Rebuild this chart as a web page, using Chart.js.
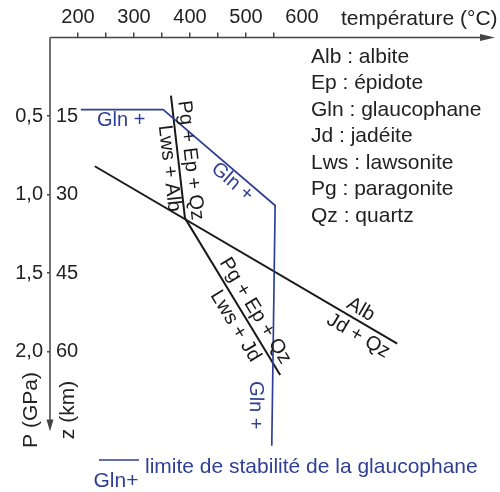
<!DOCTYPE html>
<html lang="fr">
<head>
<meta charset="utf-8">
<script src="https://cdn.jsdelivr.net/npm/chart.js@4.4.1/dist/chart.umd.min.js"></script>
<style>
  html, body { margin: 0; padding: 0; background: #fff; }
  #wrap { width: 500px; height: 492px; }
</style>
</head>
<body>
<div id="wrap"><canvas id="chart" width="500" height="492"></canvas></div>
<script>
// axes
const temperatureTicks = [200, 250, 300, 350, 400, 450, 500, 550, 600];
const pressureTicks = [0.5, 1.0, 1.5, 2.0];
const depthTicks = [15, 30, 45, 60];

// limite de stabilité de la glaucophane (T en °C, P en GPa)
const glnLimitT = [205, 352, 552, 546];
const glnLimitP = [0.46, 0.46, 1.07, 2.6];

// Pg + Ep + Qz = Lws + Alb, puis Pg + Ep + Qz = Lws + Jd
const pgReactionT = [366, 391, 561];
const pgReactionP = [0.37, 1.15, 2.15];

// Alb = Jd + Qz
const albReactionT = [230, 770];
const albReactionP = [0.82, 1.95];

const abbreviations = [
    'Alb : albite',
    'Ep : épidote',
    'Gln : glaucophane',
    'Jd : jadéite',
    'Lws : lawsonite',
    'Pg : paragonite',
    'Qz : quartz'
];

const BLUE = '#2f3f96';
const INK = '#1a1a1a';
const AXIS = '#454545';
const FONT = '"Liberation Sans", Arial, Helvetica, sans-serif';

Chart.defaults.font.family = FONT;

const toPoints = (ts, ps) => ts.map((t, i) => ({ x: t, y: ps[i] }));

// labels written along the lines: which series, which segment, where
const lineLabels = [
    { t: glnLimitT, p: glnLimitP, seg: 0, frac: 0.49, off: -11, text: 'Gln +', color: BLUE },
    { t: glnLimitT, p: glnLimitP, seg: 1, frac: 0.675, off: -10, text: 'Gln +', color: BLUE },
    { t: glnLimitT, p: glnLimitP, seg: 2, frac: 0.833, off: -17, text: 'Gln +', color: BLUE },
    { t: pgReactionT, p: pgReactionP, seg: 0, frac: 0.54, off: 12, text: 'Pg + Ep + Qz', color: INK },
    { t: pgReactionT, p: pgReactionP, seg: 0, frac: 0.585, off: -10, text: 'Lws + Alb', color: INK },
    { t: pgReactionT, p: pgReactionP, seg: 1, frac: 0.63, off: 12, text: 'Pg + Ep + Qz', color: INK },
    { t: pgReactionT, p: pgReactionP, seg: 1, frac: 0.646, off: -13, text: 'Lws + Jd', color: INK },
    { t: albReactionT, p: albReactionP, seg: 0, frac: 0.861, off: 11, text: 'Alb', color: INK },
    { t: albReactionT, p: albReactionP, seg: 0, frac: 0.893, off: -13, text: 'Jd + Qz', color: INK }
];

function arrowHead(ctx, x, y, dx, dy, len, half) {
    const nx = -dy, ny = dx;
    ctx.beginPath();
    ctx.moveTo(x, y);
    ctx.lineTo(x - dx * len + nx * half, y - dy * len + ny * half);
    ctx.lineTo(x - dx * len - nx * half, y - dy * len - ny * half);
    ctx.closePath();
    ctx.fill();
}

const diagramPlugin = {
    id: 'diagram',
    afterDraw(chart) {
        const ctx = chart.ctx;
        const xs = chart.scales.x, ys = chart.scales.y;
        const x0 = xs.left, y0 = ys.getPixelForValue(0);
        const xEnd = chart.chartArea.right;
        const yEnd = ys.getPixelForValue(2.51);
        ctx.save();

        // axes with arrows
        ctx.strokeStyle = AXIS;
        ctx.fillStyle = AXIS;
        ctx.lineWidth = 1.5;
        ctx.beginPath();
        ctx.moveTo(x0, y0);
        ctx.lineTo(xEnd - 8, y0);
        ctx.moveTo(x0, y0);
        ctx.lineTo(x0, yEnd - 8);
        ctx.stroke();
        arrowHead(ctx, xEnd, y0, 1, 0, 15, 3.5);
        arrowHead(ctx, x0, yEnd, 0, 1, 12, 3.5);

        // depth labels
        ctx.fillStyle = '#222';
        ctx.font = '20px ' + FONT;
        ctx.textAlign = 'left';
        ctx.textBaseline = 'middle';
        depthTicks.forEach((d, i) => {
            ctx.fillText(String(d), x0 + 6, ys.getPixelForValue(pressureTicks[i]));
        });

        // axis titles
        ctx.font = '21px ' + FONT;
        ctx.fillText('température (°C)', 341, 19);
        ctx.save();
        ctx.translate(31, 410);
        ctx.rotate(-Math.PI / 2);
        ctx.textAlign = 'center';
        ctx.fillText('P (GPa)', 0, 0);
        ctx.restore();
        ctx.save();
        ctx.translate(68, 410);
        ctx.rotate(-Math.PI / 2);
        ctx.textAlign = 'center';
        ctx.fillText('z (km)', 0, 0);
        ctx.restore();

        // abbreviations
        abbreviations.forEach((a, i) => ctx.fillText(a, 311, 57 + i * 26.5));

        // labels along the lines
        ctx.font = '20px ' + FONT;
        ctx.textAlign = 'center';
        lineLabels.forEach(l => {
            const ax = xs.getPixelForValue(l.t[l.seg]), ay = ys.getPixelForValue(l.p[l.seg]);
            const bx = xs.getPixelForValue(l.t[l.seg + 1]), by = ys.getPixelForValue(l.p[l.seg + 1]);
            const ang = Math.atan2(by - ay, bx - ax);
            const px = ax + (bx - ax) * l.frac + Math.sin(ang) * l.off;
            const py = ay + (by - ay) * l.frac - Math.cos(ang) * l.off;
            ctx.save();
            ctx.translate(px, py);
            ctx.rotate(ang);
            ctx.fillStyle = l.color;
            ctx.fillText(l.text, 0, 0);
            ctx.restore();
        });

        // key for the blue line
        ctx.strokeStyle = BLUE;
        ctx.fillStyle = BLUE;
        ctx.lineWidth = 1.7;
        ctx.beginPath();
        ctx.moveTo(99, 460);
        ctx.lineTo(139, 460);
        ctx.stroke();
        ctx.font = '21px ' + FONT;
        ctx.textAlign = 'center';
        ctx.fillText('Gln+', 116, 481);
        ctx.textAlign = 'left';
        ctx.fillText('limite de stabilité de la glaucophane', 145, 467);

        ctx.restore();
    }
};

new Chart(document.getElementById('chart'), {
    type: 'scatter',
    data: {
        datasets: [
            {
                label: 'Gln+',
                data: toPoints(glnLimitT, glnLimitP),
                showLine: true,
                borderColor: BLUE,
                borderWidth: 1.7,
                pointRadius: 0
            },
            {
                label: 'Pg + Ep + Qz',
                data: toPoints(pgReactionT, pgReactionP),
                showLine: true,
                borderColor: INK,
                borderWidth: 2,
                pointRadius: 0
            },
            {
                label: 'Alb',
                data: toPoints(albReactionT, albReactionP),
                showLine: true,
                borderColor: INK,
                borderWidth: 2,
                pointRadius: 0
            }
        ]
    },
    options: {
        responsive: false,
        animation: false,
        layout: { padding: { left: 0, right: 5, top: 0, bottom: 30.6 } },
        plugins: {
            legend: { display: false },
            tooltip: { enabled: false }
        },
        scales: {
            x: {
                type: 'linear',
                position: 'top',
                min: 150,
                max: 944.6,
                afterBuildTicks: s => { s.ticks = temperatureTicks.map(v => ({ value: v })); },
                afterFit: s => { s.height = 37.5; },
                ticks: {
                    callback: v => (v % 100 === 0 ? String(v) : ''),
                    font: { size: 20 },
                    color: '#222',
                    padding: 3,
                    maxRotation: 0,
                    autoSkip: false
                },
                grid: {
                    drawOnChartArea: false,
                    tickLength: 5,
                    lineWidth: 1.5,
                    tickColor: c => (c.tick && c.tick.value === 600 ? 'rgba(0,0,0,0)' : AXIS)
                },
                border: { display: false }
            },
            y: {
                type: 'linear',
                reverse: true,
                min: 0,
                max: 2.7,
                afterBuildTicks: s => { s.ticks = pressureTicks.map(v => ({ value: v })); },
                afterFit: s => { s.width = 50; },
                ticks: {
                    callback: v => v.toFixed(1).replace('.', ','),
                    font: { size: 20 },
                    color: '#222',
                    padding: 4
                },
                grid: {
                    drawOnChartArea: false,
                    tickLength: 3,
                    lineWidth: 1.5,
                    tickColor: AXIS
                },
                border: { display: false }
            }
        }
    },
    plugins: [diagramPlugin]
});
</script>
</body>
</html>
